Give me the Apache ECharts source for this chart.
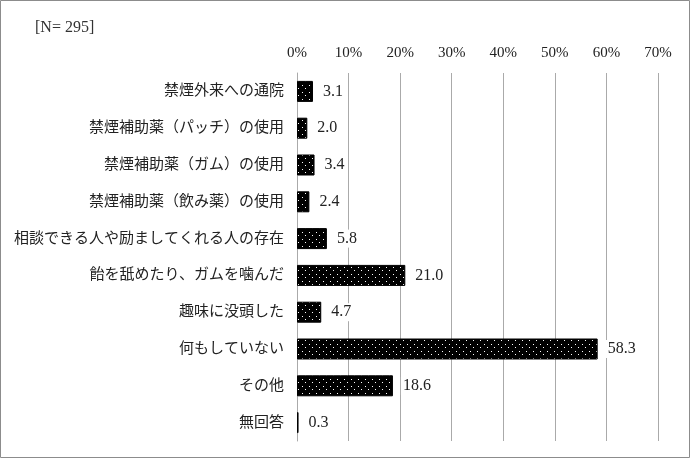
<!DOCTYPE html>
<html><head><meta charset="utf-8">
<script src="https://cdn.jsdelivr.net/npm/echarts@6/dist/echarts.min.js"></script>
<style>html,body{margin:0;padding:0;background:#fff}#c{width:690px;height:458px}</style>
</head><body><div id="c"></div>
<script>
const categories = ['禁煙外来への通院','禁煙補助薬（パッチ）の使用','禁煙補助薬（ガム）の使用','禁煙補助薬（飲み薬）の使用','相談できる人や励ましてくれる人の存在','飴を舐めたり、ガムを噛んだ','趣味に没頭した','何もしていない','その他','無回答'];
const values = [3.1, 2.0, 3.4, 2.4, 5.8, 21.0, 4.7, 58.3, 18.6, 0.3];
const sampleLabel = '[N= 295]';

const pc = document.createElement('canvas');
pc.width = 7; pc.height = 7;
const g = pc.getContext('2d');
g.fillStyle = '#000'; g.fillRect(0,0,7,7);
g.fillStyle = '#fff';
g.fillRect(1,1,1,1); g.fillRect(4,4,1,1);

const font = '"Liberation Serif","DejaVu Serif","Noto Sans CJK JP",serif';
const chart = echarts.init(document.getElementById('c'));
chart.setOption({
  backgroundColor:'#fff',
  animation:false,
  graphic:[
    {type:'rect',shape:{x:0.5,y:0.5,width:689,height:457},style:{fill:'none',stroke:'#8c8c8c',lineWidth:1}},
    {type:'text',left:35,top:20,style:{text:sampleLabel,font:'16px '+font,fill:'#333'}}
  ],
  grid:{left:297,right:32,top:73,bottom:17,containLabel:false},
  xAxis:{type:'value',position:'top',min:0,max:70,interval:10,
    axisLabel:{formatter:'{value}%',fontFamily:font,fontSize:15,color:'#222',margin:12},
    axisLine:{show:false},axisTick:{show:false},
    splitLine:{show:true,lineStyle:{color:'#aaaaaa',width:1}}},
  yAxis:{type:'category',inverse:true,data:categories,
    axisLabel:{fontFamily:font,fontSize:15,color:'#222',margin:13},
    axisLine:{show:true,lineStyle:{color:'#aaaaaa'}},axisTick:{show:false}},
  series:[{type:'bar',data:values,barWidth:21,
    itemStyle:{color:{image:pc,repeat:'repeat'},borderColor:'#000',borderWidth:1},
    label:{show:true,position:'right',distance:8,formatter:p=>p.value.toFixed(1),
      fontFamily:font,fontSize:16,color:'#222',backgroundColor:'#fff',padding:[1,2]}}]
});
</script></body></html>
